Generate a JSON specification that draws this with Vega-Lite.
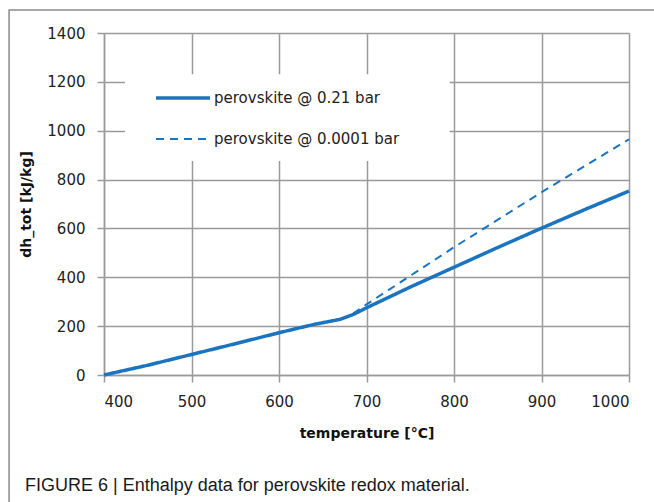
{
  "$schema": "https://vega.github.io/schema/vega-lite/v6.json",
  "width": 525,
  "height": 342,
  "autosize": {"type": "none"},
  "padding": {"left": 104, "top": 33, "right": 25, "bottom": 127},
  "background": "white",
  "config": {
    "view": {"stroke": null},
    "font": "DejaVu Sans",
    "axis": {
      "grid": true,
      "domainColor": "#9a9a9a",
      "domainWidth": 1.5,
      "gridColor": "#9a9a9a",
      "gridWidth": 1.5,
      "gridOpacity": 1,
      "tickColor": "#9a9a9a",
      "tickWidth": 1.5,
      "tickSize": 7,
      "labelColor": "#222222",
      "labelFontSize": 15,
      "labelLimit": 0,
      "titleFontSize": 14,
      "titleFontWeight": "bold",
      "titleColor": "#111111"
    }
  },
  "title": {
    "text": "FIGURE 6 | Enthalpy data for perovskite redox material.",
    "orient": "bottom",
    "anchor": "start",
    "frame": "group",
    "baseline": "top",
    "offset": -31,
    "dx": -79,
    "font": "Liberation Sans",
    "fontSize": 18,
    "fontWeight": "normal",
    "color": "#1a1a1a"
  },
  "layer": [
    {
      "data": {"values": [{}]},
      "mark": {"type": "rect", "fill": null, "stroke": "#8a8a8a", "strokeWidth": 1.5, "clip": false},
      "encoding": {
        "x": {"datum": 291.5, "type": "quantitative"},
        "x2": {"datum": 1200},
        "y": {"datum": 1494, "type": "quantitative"},
        "y2": {"datum": -540}
      }
    },
    {
      "data": {"values": [{}]},
      "mark": {"type": "rect", "fill": "white", "stroke": null},
      "encoding": {
        "x": {"datum": 424, "type": "quantitative"},
        "x2": {"datum": 795},
        "y": {"datum": 1231, "type": "quantitative"},
        "y2": {"datum": 876}
      }
    },
    {
      "data": {
        "values": [
          {"t": 400, "h": 0, "series": "perovskite @ 0.21 bar"},
          {"t": 450, "h": 40, "series": "perovskite @ 0.21 bar"},
          {"t": 500, "h": 84, "series": "perovskite @ 0.21 bar"},
          {"t": 550, "h": 128, "series": "perovskite @ 0.21 bar"},
          {"t": 600, "h": 173, "series": "perovskite @ 0.21 bar"},
          {"t": 640, "h": 207, "series": "perovskite @ 0.21 bar"},
          {"t": 670, "h": 228, "series": "perovskite @ 0.21 bar"},
          {"t": 685, "h": 248, "series": "perovskite @ 0.21 bar"},
          {"t": 700, "h": 275, "series": "perovskite @ 0.21 bar"},
          {"t": 750, "h": 360, "series": "perovskite @ 0.21 bar"},
          {"t": 800, "h": 441, "series": "perovskite @ 0.21 bar"},
          {"t": 850, "h": 522, "series": "perovskite @ 0.21 bar"},
          {"t": 900, "h": 601, "series": "perovskite @ 0.21 bar"},
          {"t": 950, "h": 678, "series": "perovskite @ 0.21 bar"},
          {"t": 1000, "h": 753, "series": "perovskite @ 0.21 bar"},
          {"t": 670, "h": 228, "series": "perovskite @ 0.0001 bar"},
          {"t": 685, "h": 252, "series": "perovskite @ 0.0001 bar"},
          {"t": 700, "h": 289, "series": "perovskite @ 0.0001 bar"},
          {"t": 800, "h": 523, "series": "perovskite @ 0.0001 bar"},
          {"t": 900, "h": 748, "series": "perovskite @ 0.0001 bar"},
          {"t": 1000, "h": 965, "series": "perovskite @ 0.0001 bar"}
        ]
      },
      "mark": {"type": "line", "color": "#1a74c0"},
      "encoding": {
        "x": {
          "field": "t",
          "type": "quantitative",
          "title": "temperature [°C]",
          "scale": {"domain": [400, 1000], "nice": false, "zero": false},
          "axis": {"values": [400, 500, 600, 700, 800, 900, 1000], "format": "d", "grid": true, "labelPadding": 12, "titlePadding": 17}
        },
        "y": {
          "field": "h",
          "type": "quantitative",
          "title": "dh_tot [kJ/kg]",
          "scale": {"domain": [0, 1400], "nice": false},
          "axis": {"values": [0, 200, 400, 600, 800, 1000, 1200, 1400], "format": "d", "grid": true, "labelPadding": 12, "titlePadding": 13}
        },
        "strokeDash": {
          "field": "series",
          "type": "nominal",
          "scale": {"domain": ["perovskite @ 0.21 bar", "perovskite @ 0.0001 bar"], "range": [[1, 0], [8, 6]]},
          "legend": {
            "title": null,
            "orient": "none",
            "legendX": 50,
            "legendY": 36,
            "symbolType": "stroke",
            "symbolSize": 2916,
            "symbolStrokeColor": "#1a74c0",
            "labelFontSize": 15,
            "labelLimit": 0,
            "labelColor": "#222222",
            "labelOffset": 2,
            "rowPadding": 5
          }
        },
        "strokeWidth": {
          "field": "series",
          "type": "nominal",
          "scale": {"domain": ["perovskite @ 0.21 bar", "perovskite @ 0.0001 bar"], "range": [3.5, 2]},
          "legend": null
        }
      }
    }
  ]
}
